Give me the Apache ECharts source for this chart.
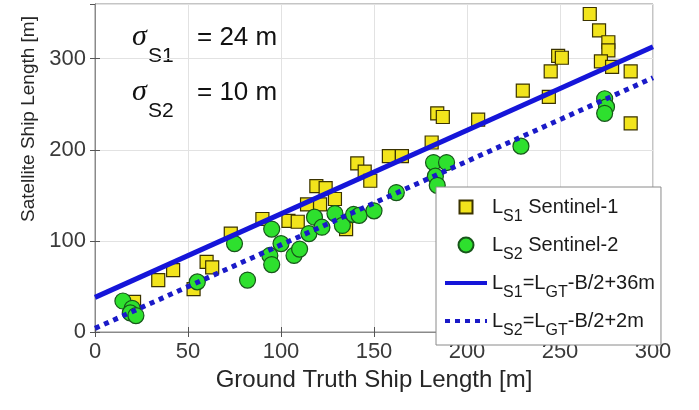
<!DOCTYPE html>
<html>
<head>
<meta charset="utf-8">
<script src="https://cdn.jsdelivr.net/npm/echarts@6/dist/echarts.min.js"></script>
<style>html,body{margin:0;padding:0;background:#fff}#c{width:699px;height:410px}</style>
</head>
<body>
<div id="c"></div>
<script>
// Data
const s1Data = [[19,28],[21,33],[34,57],[42,68],[53,47],[60,77],[63,71],[73,108],[90,124],[104,122],[109,121],[114,140],[119,160],[121,140],[124,158],[129,146],[135,113],[141,185],[145,176],[148,166],[158,193],[165,193],[181,208],[184,240],[187,236],[206,233],[230,265],[244,258],[245,286],[249,303],[251,301],[266,349],[271,331],[276,318],[276,309],[272,297],[278,291],[288,286],[288,229]];
const s2Data = [[15,34],[20,26],[19,21],[22,18],[55,55],[75,97],[82,57],[94,84],[95,74],[95,113],[100,97],[107,84],[110,91],[115,108],[118,126],[122,115],[129,130],[133,117],[139,129],[142,128],[150,133],[162,153],[182,186],[189,186],[183,171],[184,161],[229,204],[274,256],[275,247],[274,240]];
const fitS1 = [[0,38],[300,313]];
const fitS2 = [[0,4],[300,279]];
const seriesNames = ['S1 Sentinel-1','S2 Sentinel-2','S1 fit','S2 fit'];
const legendLabels = {
  'S1 Sentinel-1': '{m|L}{s|S1}{m| Sentinel-1}',
  'S2 Sentinel-2': '{m|L}{s|S2}{m| Sentinel-2}',
  'S1 fit': '{m|L}{s|S1}{m|=L}{s|GT}{m|-B/2+36m}',
  'S2 fit': '{m|L}{s|S2}{m|=L}{s|GT}{m|-B/2+2m}'
};
const xTitle = 'Ground Truth Ship Length [m]';
const yTitle = 'Satellite Ship Length [m]';

const FONT = '"Liberation Sans", Arial, sans-serif';
const chart = echarts.init(document.getElementById('c'));
const tickStyle = {show:true, inside:true, length:5, lineStyle:{color:'#555'}};
chart.setOption({
  animation:false,
  grid: {left:95, right:46, top:4, bottom:78, show:true, borderColor:'#8a8a8a', borderWidth:1,
         containLabel:false, outerBoundsMode:'none'},
  xAxis: [{
    type:'value', min:0, max:300, interval:50,
    name: xTitle, nameLocation:'middle', nameGap:30,
    nameTextStyle:{fontFamily:FONT, fontSize:24, color:'#262626'},
    axisLine:{show:true, lineStyle:{color:'#8a8a8a'}},
    axisTick: tickStyle,
    axisLabel:{fontFamily:FONT, fontSize:22, color:'#3a3a3a', margin:9},
    splitLine:{show:true, lineStyle:{color:'#e2e2e2'}}
  },{
    type:'value', min:0, max:300, interval:50, position:'top',
    axisLine:{show:true, lineStyle:{color:'#8a8a8a'}},
    axisTick: tickStyle, axisLabel:{show:false}, splitLine:{show:false}
  }],
  yAxis: [{
    type:'value', min:0, max:360, interval:100,
    name: yTitle, nameLocation:'middle', nameGap:56,
    nameTextStyle:{fontFamily:FONT, fontSize:19, color:'#262626', padding:[0,0,0,98]},
    axisLine:{show:true, lineStyle:{color:'#8a8a8a'}},
    axisTick: tickStyle,
    axisLabel:{fontFamily:FONT, fontSize:22, color:'#3a3a3a', margin:9, showMaxLabel:false},
    splitLine:{show:true, lineStyle:{color:'#e2e2e2'}}
  },{
    type:'value', min:0, max:360, interval:100, position:'right',
    axisLine:{show:true, lineStyle:{color:'#8a8a8a'}},
    axisTick: tickStyle, axisLabel:{show:false}, splitLine:{show:false}
  }],
  legend: {
    orient:'vertical', left:436, top:187,
    backgroundColor:'#fff', borderColor:'#8a8a8a', borderWidth:1,
    padding:[10,6,6,7], itemGap:10, itemWidth:42, itemHeight:15,
    lineStyle:{width:4},
    data: [
      {name:seriesNames[0], icon:'path://M0,0M15,15M1,1h13v13h-13z'},
      {name:seriesNames[1], icon:'path://M0,7.5A7.5,7.5,0,1,1,15,7.5A7.5,7.5,0,1,1,0,7.5z'},
      {name:seriesNames[2], itemStyle:{opacity:0}},
      {name:seriesNames[3], itemStyle:{opacity:0}}
    ],
    formatter: n => legendLabels[n],
    textStyle:{
      fontFamily:FONT, color:'#1a1a1a',
      rich:{
        m:{fontFamily:FONT, fontSize:20, color:'#1a1a1a'},
        s:{fontFamily:FONT, fontSize:16, color:'#1a1a1a', padding:[20,0,0,0]}
      }
    }
  },
  series: [
    {name:seriesNames[0], type:'scatter', data:s1Data, symbol:'rect', symbolSize:13,
     itemStyle:{color:'#f2e41c', borderColor:'#3b3300', borderWidth:1.2, opacity:1}, z:2},
    {name:seriesNames[1], type:'scatter', data:s2Data, symbol:'circle', symbolSize:16,
     itemStyle:{color:'#2ee02e', borderColor:'#17561a', borderWidth:1.2, opacity:1}, z:3},
    {name:seriesNames[2], type:'line', data:fitS1, showSymbol:false, symbol:'none',
     lineStyle:{color:'#1515d9', width:5, type:'solid'}, itemStyle:{color:'#1515d9'}, z:4},
    {name:seriesNames[3], type:'line', data:fitS2, showSymbol:false, symbol:'none',
     lineStyle:{color:'#1a1ac8', width:5, type:[5,5]}, itemStyle:{color:'#1a1ac8'}, z:4}
  ],
  graphic: [
    {type:'text', x:132, y:37, style:{text:'σ', font:'italic 30px "Liberation Serif", serif', fill:'#111', align:'left', verticalAlign:'middle'}},
    {type:'text', x:148, y:56, style:{text:'S1', font:'21px '+FONT, fill:'#111', align:'left', verticalAlign:'middle'}},
    {type:'text', x:197, y:38, style:{text:'= 24 m', font:'26px '+FONT, fill:'#111', align:'left', verticalAlign:'middle'}},
    {type:'text', x:132, y:92, style:{text:'σ', font:'italic 30px "Liberation Serif", serif', fill:'#111', align:'left', verticalAlign:'middle'}},
    {type:'text', x:148, y:111, style:{text:'S2', font:'21px '+FONT, fill:'#111', align:'left', verticalAlign:'middle'}},
    {type:'text', x:197, y:93, style:{text:'= 10 m', font:'26px '+FONT, fill:'#111', align:'left', verticalAlign:'middle'}}
  ]
});
</script>
</body>
</html>
